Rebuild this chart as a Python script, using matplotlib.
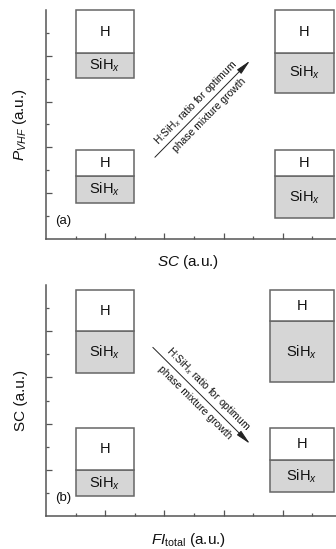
import numpy as np
import matplotlib
matplotlib.use("Agg")
import matplotlib.pyplot as plt
from matplotlib.transforms import offset_copy

plt.rcParams['font.family'] = ['Liberation Sans', 'DejaVu Sans']
plt.rcParams['mathtext.fontset'] = 'custom'
plt.rcParams['mathtext.rm'] = 'Liberation Sans'
plt.rcParams['mathtext.it'] = 'Liberation Sans:italic'
plt.rcParams['mathtext.bf'] = 'Liberation Sans:bold'

# Panel (a): P_VHF vs SC
a_left = [1.0, 7.74, 1.0, 7.74]
a_right = [2.97, 9.73, 2.97, 9.73]
a_sihx_bottom = [7.04, 6.39, 1.57, 0.91]
a_divider = [8.13, 8.13, 2.74, 2.74]
a_top = [9.98, 9.98, 3.87, 3.87]
a_arrow = [(3.68, 3.57), (6.89, 7.78)]

# Panel (b): SC vs FI_total
b_left = [1.0, 7.57, 1.0, 7.57]
b_right = [2.97, 9.73, 2.97, 9.73]
b_sihx_bottom = [6.17, 5.78, 0.87, 1.04]
b_divider = [8.0, 8.43, 2.0, 2.43]
b_top = [9.78, 9.78, 3.83, 3.83]
b_arrow = [(3.61, 7.30), (6.89, 3.13)]

arrow_text_upper = r'H:SiH$_x$ ratio for optimum'
arrow_text_lower = 'phase mixture growth'

EDGE = '#666666'
FILL = '#d6d6d6'
SPINE = '#555555'
INK = '#111111'

W, H = 336, 549
fig = plt.figure(figsize=(W / 100, H / 100), dpi=100)
ax_a = fig.add_axes([46 / W, (H - 239) / H, 290 / W, 229 / H])
ax_b = fig.add_axes([46 / W, (H - 516) / H, 290 / W, 231 / H])


def style_axes(ax):
    ax.set_xlim(0, 9.8)
    ax.set_ylim(0, 10)
    for s in ['top', 'right']:
        ax.spines[s].set_visible(False)
    for s in ['left', 'bottom']:
        ax.spines[s].set_color(SPINE)
        ax.spines[s].set_linewidth(1.1)
    ax.set_xticks([2, 4, 6, 8])
    ax.set_xticks([1, 3, 5, 7, 9], minor=True)
    ax.set_yticks([2, 4, 6, 8])
    ax.set_yticks([1, 3, 5, 7, 9], minor=True)
    ax.tick_params(which='both', direction='in', labelbottom=False,
                   labelleft=False, color=SPINE)
    ax.tick_params(which='major', length=4, width=0.9)
    ax.tick_params(which='minor', length=2, width=0.9)


def draw_boxes(ax, left, right, bottom, divider, top):
    left = np.array(left)
    width = np.array(right) - left
    bottom = np.array(bottom)
    divider = np.array(divider)
    top = np.array(top)
    ax.bar(left, divider - bottom, width=width, bottom=bottom, align='edge',
           color=FILL, edgecolor=EDGE, linewidth=1.1, clip_on=False, zorder=3)
    ax.bar(left, top - divider, width=width, bottom=divider, align='edge',
           color='white', edgecolor=EDGE, linewidth=1.1, clip_on=False, zorder=3)
    cx = left + width / 2
    for x, b, d, t in zip(cx, bottom, divider, top):
        ax.text(x, (d + t) / 2, 'H', ha='center', va='center', fontsize=10.5,
                color=INK, zorder=4)
        ax.text(x, (b + d) / 2, r'SiH$_{\mathit{x}}$', ha='center', va='center',
                fontsize=10.5, color=INK, zorder=4)


def draw_arrow(ax, p0, p1, off_up, off_down):
    ax.annotate('', xy=p1, xytext=p0,
                arrowprops=dict(arrowstyle='-|>,head_length=0.9,head_width=0.18',
                                color='#222222', lw=0.7, shrinkA=0, shrinkB=0))
    d0 = ax.transData.transform(p0)
    d1 = ax.transData.transform(p1)
    ang = np.degrees(np.arctan2(d1[1] - d0[1], d1[0] - d0[0]))
    mx, my = (p0[0] + p1[0]) / 2, (p0[1] + p1[1]) / 2
    rad = np.radians(ang)
    nx, ny = -np.sin(rad), np.cos(rad)  # normal pointing to the upper side
    t_up = offset_copy(ax.transData, fig=fig, x=nx * off_up, y=ny * off_up, units='points')
    t_dn = offset_copy(ax.transData, fig=fig, x=-nx * off_down, y=-ny * off_down, units='points')
    ax.text(mx, my, arrow_text_upper, rotation=ang, rotation_mode='anchor',
            ha='center', va='bottom', fontsize=7.5, color=INK, transform=t_up)
    ax.text(mx, my, arrow_text_lower, rotation=ang, rotation_mode='anchor',
            ha='center', va='top', fontsize=7.5, color=INK, transform=t_dn)


style_axes(ax_a)
style_axes(ax_b)

draw_boxes(ax_a, a_left, a_right, a_sihx_bottom, a_divider, a_top)
draw_boxes(ax_b, b_left, b_right, b_sihx_bottom, b_divider, b_top)

draw_arrow(ax_a, *a_arrow, off_up=1.5, off_down=3.0)
draw_arrow(ax_b, *b_arrow, off_up=1.5, off_down=3.0)

ax_a.text(0.3, 0.8, '(a)', fontsize=9.5, va='center', ha='left', color=INK)
ax_b.text(0.3, 0.8, '(b)', fontsize=9.5, va='center', ha='left', color=INK)

ax_a.set_ylabel(r'$P_{\mathit{VHF}}$ (a.u.)', fontsize=11, color=INK)
ax_a.yaxis.set_label_coords(-0.058, 0.5)
ax_a.set_xlabel(r'$SC$ (a.u.)', fontsize=11, color=INK)
ax_a.xaxis.set_label_coords(0.49, -0.061)

ax_b.set_ylabel('SC (a.u.)', fontsize=11, color=INK)
ax_b.yaxis.set_label_coords(-0.062, 0.5)
ax_b.set_xlabel(r'$FI_{\mathregular{total}}$ (a.u.)', fontsize=11, color=INK)
ax_b.xaxis.set_label_coords(0.49, -0.066)

fig.savefig('out.png', dpi=100)
